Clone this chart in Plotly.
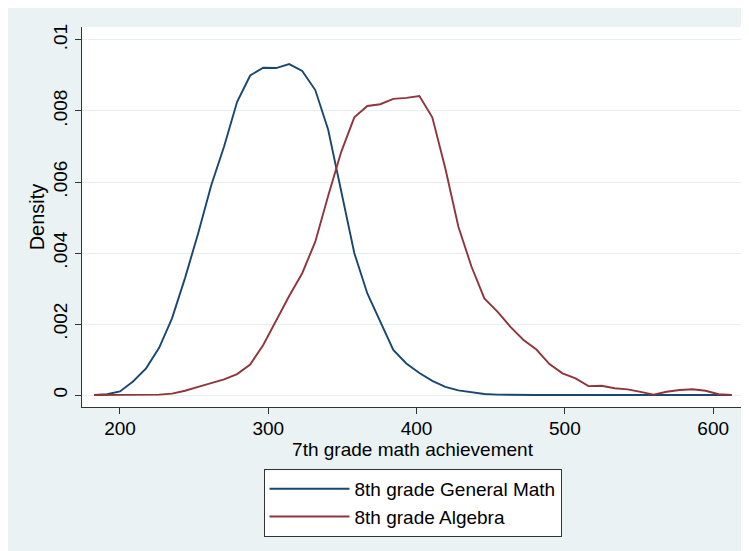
import plotly.graph_objects as go

# ---- data ----
achievement = [
    182.5, 191.3, 200.0, 208.8, 217.6, 226.4, 235.1, 243.9, 252.7, 261.5,
    270.2, 279.0, 287.8, 296.6, 305.3, 314.1, 322.9, 331.7, 340.4, 349.2,
    358.0, 366.8, 375.5, 384.3, 393.1, 401.9, 410.6, 419.4, 428.2, 437.0,
    445.7, 454.5, 463.3, 472.1, 480.8, 489.6, 498.4, 507.2, 515.9, 524.7,
    533.5, 542.3, 551.0, 559.8, 568.6, 577.4, 586.1, 594.9, 603.7, 612.5,
]

general_math_density = [
    0.0, 0.00002, 0.0001, 0.00038, 0.00075, 0.00133, 0.00216, 0.0033, 0.00455, 0.0059,
    0.0070, 0.00826, 0.00900, 0.00922, 0.00921, 0.00932, 0.00913, 0.00859, 0.00747, 0.0057,
    0.0040, 0.00286, 0.00205, 0.00127, 0.00089, 0.00062, 0.00040, 0.00023, 0.00013, 0.00007,
    0.00003, 0.00001, 0.0, 0.0, 0.0, 0.0, 0.0, 0.0, 0.0, 0.0,
    0.0, 0.0, 0.0, 0.0, 0.0, 0.0, 0.0, 0.0, 0.0, 0.0,
]

algebra_density = [
    0.0, 0.0, 0.0, 0.0, 0.0, 0.00001, 0.00004, 0.00012, 0.00023, 0.00033,
    0.00044, 0.00059, 0.00086, 0.00141, 0.00211, 0.00279, 0.00343, 0.00432, 0.00561, 0.00685,
    0.00782, 0.00814, 0.00819, 0.00834, 0.00837, 0.00842, 0.00782, 0.00638, 0.00474, 0.00362,
    0.00272, 0.00235, 0.00192, 0.00155, 0.00128, 0.00087, 0.00061, 0.00047, 0.00025, 0.00026,
    0.00019, 0.00016, 0.00009, 0.00001, 0.00009, 0.00014, 0.00016, 0.00012, 0.00002, 0.0,
]

series_names = ["8th grade General Math", "8th grade Algebra"]

x_tick_values = [200, 300, 400, 500, 600]
y_tick_values = [0, 0.002, 0.004, 0.006, 0.008, 0.01]
y_tick_labels = ["0", ".002", ".004", ".006", ".008", ".01"]

x_title = "7th grade math achievement"
y_title = "Density"

# ---- figure ----
W, H = 749, 551
L, R, T, B = 74, 14, 19, 152

fig = go.Figure()
fig.add_trace(go.Scatter(
    x=achievement, y=general_math_density, mode="lines", name=series_names[0],
    line=dict(color="#1A476F", width=1.9),
))
fig.add_trace(go.Scatter(
    x=achievement, y=algebra_density, mode="lines", name=series_names[1],
    line=dict(color="#90353B", width=1.9),
))

axis_color = "#333333"
fig.update_layout(
    width=W, height=H,
    margin=dict(l=L, r=R, t=T, b=B, autoexpand=False),
    paper_bgcolor="#EAF2F3",
    plot_bgcolor="white",
    font=dict(family="Liberation Sans, Arial, Helvetica, sans-serif", size=19, color="black"),
    showlegend=True,
    legend=dict(
        x=0.5, xanchor="center", y=-0.163, yanchor="top",
        orientation="v",
        bgcolor="white", bordercolor=axis_color, borderwidth=1,
        itemwidth=80,
        font=dict(size=19),
        tracegroupgap=0,
    ),
    xaxis=dict(
        range=[174.4, 620.1],
        tickmode="array", tickvals=x_tick_values,
        showgrid=False, zeroline=False,
        showline=True, linecolor=axis_color, linewidth=1,
        ticks="outside", ticklen=6, tickcolor=axis_color, tickwidth=1,
        ticklabelstandoff=-2,
        title=dict(text=x_title, standoff=2, font=dict(size=19)),
        automargin=False,
    ),
    yaxis=dict(
        range=[-0.000338, 0.010366],
        tickmode="array", tickvals=y_tick_values, ticktext=y_tick_labels,
        tickangle=-90,
        showgrid=True, gridcolor="#E6EFF0", gridwidth=1,
        zeroline=False,
        showline=True, linecolor=axis_color, linewidth=1,
        ticks="outside", ticklen=6, tickcolor=axis_color, tickwidth=1,
        title=dict(text=y_title, standoff=0, font=dict(size=20)),
        automargin=False,
    ),
)

fig.write_html("out.html")
